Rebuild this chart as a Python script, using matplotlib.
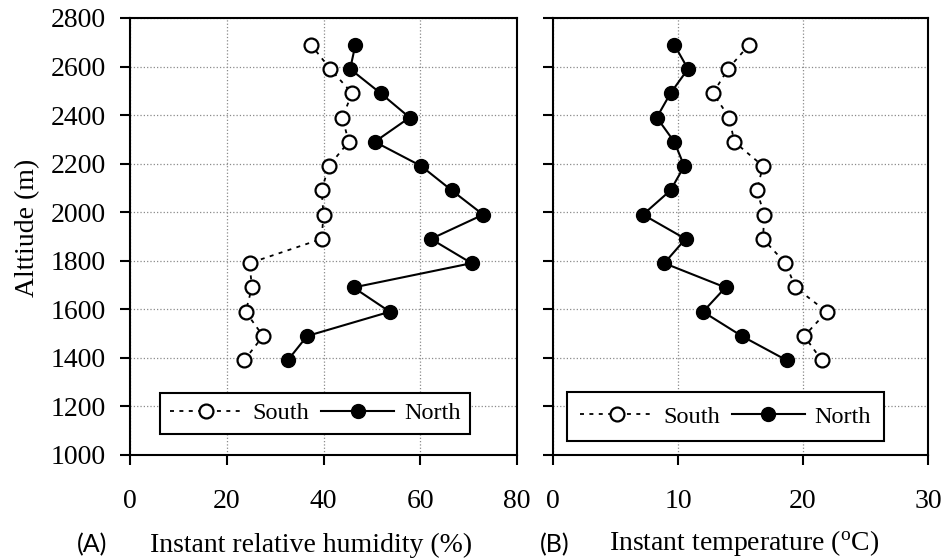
import matplotlib.pyplot as plt

plt.rcParams['font.family'] = ['Liberation Serif', 'DejaVu Serif']
plt.rcParams['mathtext.fontset'] = 'custom'
plt.rcParams['mathtext.rm'] = 'Liberation Serif'

# altitudes of the sampling points (m)
altitude = [1390, 1490, 1590, 1690, 1790, 1890, 1990,
            2090, 2190, 2290, 2390, 2490, 2590, 2690]

# instant relative humidity (%)
rh_south = [23.6, 27.5, 23.9, 25.2, 24.7, 39.6, 40.0,
            39.6, 41.1, 45.2, 43.9, 45.9, 41.4, 37.4]
rh_north = [32.6, 36.6, 53.7, 46.2, 70.6, 62.2, 73.0,
            66.5, 60.2, 50.6, 57.8, 51.8, 45.5, 46.6]

# instant temperature (oC)
t_south = [21.5, 20.1, 21.9, 19.4, 18.6, 16.8, 16.9,
           16.3, 16.8, 14.5, 14.1, 12.8, 14.0, 15.7]
t_north = [18.7, 15.1, 12.0, 13.8, 8.9, 10.6, 7.2,
           9.4, 10.5, 9.7, 8.3, 9.4, 10.8, 9.7]

fig = plt.figure(figsize=(9.45, 5.6), dpi=100)
ax1 = fig.add_axes([0.1376, 0.1875, 0.4095, 0.7804])
ax2 = fig.add_axes([0.5852, 0.1875, 0.3968, 0.7804])

south_style = dict(color='black', linestyle=(0, (2.2, 3)), linewidth=1.3,
                   marker='o', markersize=10, markerfacecolor='white',
                   markeredgecolor='black', markeredgewidth=1.6)
north_style = dict(color='black', linestyle='-', linewidth=1.5,
                   marker='o', markersize=10, markerfacecolor='black',
                   markeredgecolor='black')

for ax, s, n, xmax, step in [(ax1, rh_south, rh_north, 80, 20),
                             (ax2, t_south, t_north, 30, 10)]:
    ax.plot(s, altitude, label='South', **south_style)
    ax.plot(n, altitude, label='North', **north_style)
    ax.set_xlim(0, xmax)
    ax.set_ylim(1000, 2800)
    ax.set_xticks(range(0, xmax + 1, step))
    ax.set_yticks(range(1000, 2801, 200))
    ax.grid(True, color='#8a8a8a', linestyle=':', linewidth=0.9)
    ax.set_axisbelow(True)
    for sp in ax.spines.values():
        sp.set_linewidth(1.5)
    ax.tick_params(direction='out', length=7.5, width=1.5, labelsize=20)
    ax.tick_params(axis='x', pad=17)
    ax.tick_params(axis='y', pad=10)

ax2.tick_params(axis='y', labelleft=False)

ax1.set_ylabel('Alttiude (m)', fontsize=20)
ax1.yaxis.set_label_coords(-0.232, 0.52)

leg1 = ax1.legend(loc='lower left', bbox_to_anchor=(0.0775, 0.048), ncol=2,
                  fontsize=17.5, handlelength=3.0, handletextpad=0.4,
                  columnspacing=0.5, borderaxespad=0, fancybox=False,
                  edgecolor='black', framealpha=1, borderpad=0.4)
leg1.get_frame().set_linewidth(1.5)
leg2 = ax2.legend(loc='lower left', bbox_to_anchor=(0.037, 0.032), ncol=2,
                  fontsize=17.5, handlelength=3.0, handletextpad=0.4,
                  columnspacing=0.5, borderaxespad=0, fancybox=False,
                  edgecolor='black', framealpha=1, borderpad=0.55)
leg2.get_frame().set_linewidth(1.5)

# panel captions under each axis
fig.text(92 / 945, 1 - 545 / 560, '(A)', family=['Lato', 'DejaVu Sans'],
         fontsize=18, ha='center', va='center')
fig.text(311 / 945, 1 - 545 / 560, 'Instant relative humidity (%)',
         fontsize=20, ha='center', va='center')
fig.text(555 / 945, 1 - 545 / 560, '(B)', family=['Lato', 'DejaVu Sans'],
         fontsize=18, ha='center', va='center')
fig.text(744 / 945, 1 - 543 / 560, r'Instant temperature ($\mathrm{^{o}}$C)',
         fontsize=20, ha='center', va='center')

fig.savefig('out.png', dpi=100)
